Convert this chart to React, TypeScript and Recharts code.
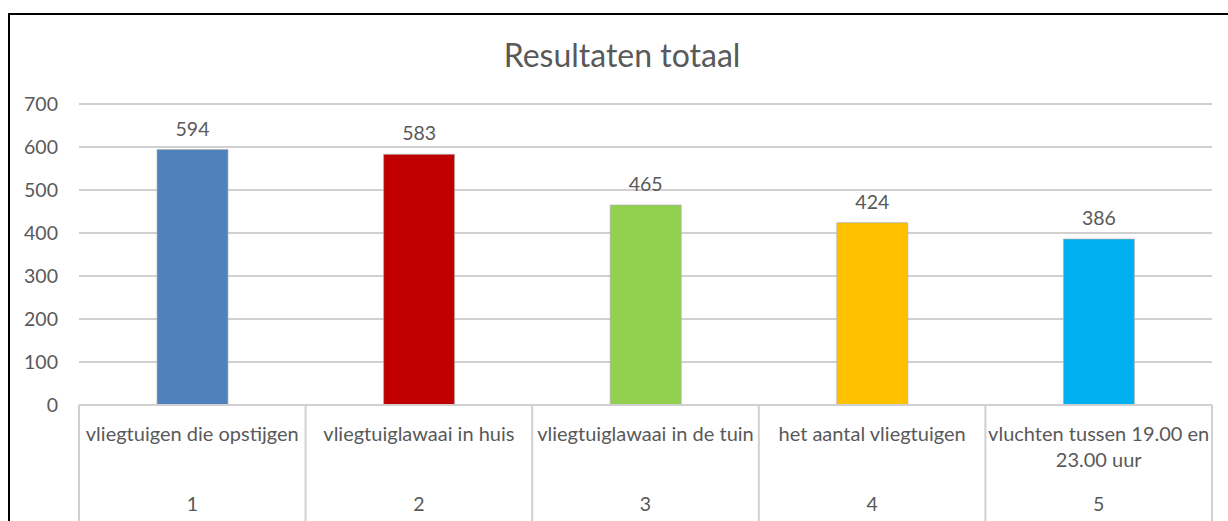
import React from 'react';
import { BarChart, Bar, XAxis, YAxis, CartesianGrid, Cell, LabelList } from 'recharts';

const categories = [
  'vliegtuigen die opstijgen',
  'vliegtuiglawaai in huis',
  'vliegtuiglawaai in de tuin',
  'het aantal vliegtuigen',
  'vluchten tussen 19.00 en\n23.00 uur',
];
const groupLabels = ['1', '2', '3', '4', '5'];
const totals = [594, 583, 465, 424, 386];
const barColors = ['#4F81BD', '#C00000', '#92D050', '#FFC000', '#00B0F0'];
const yTicks = [0, 100, 200, 300, 400, 500, 600, 700];

const FONT = 'Lato, "Open Sans", sans-serif';
const TEXT = '#595959';
const GRID = '#d0d0d0';

const data = categories.map((name, i) => ({
  name,
  group: groupLabels[i],
  value: totals[i],
}));

// two-level category axis: label rows + number row, with cell dividers
const CategoryTick = (props: any) => {
  const { x, y, payload, index, width, visibleTicksCount } = props;
  const count = visibleTicksCount || categories.length;
  const band = width ? width / count : 226.6;
  const lines = String(payload.value).split('\n');
  const left = x - band / 2;
  const right = x + band / 2;
  return (
    <g>
      <line x1={left} x2={left} y1={y} y2={y + 120} stroke={GRID} strokeWidth={2} />
      {index === count - 1 && (
        <line x1={right} x2={right} y1={y} y2={y + 120} stroke={GRID} strokeWidth={2} />
      )}
      <text x={x} y={y + 36} textAnchor="middle" fill={TEXT} fontSize={20} fontFamily={FONT}>
        {lines.map((l, i) => (
          <tspan key={i} x={x} dy={i === 0 ? 0 : 26}>
            {l}
          </tspan>
        ))}
      </text>
      <text x={x} y={y + 106} textAnchor="middle" fill={TEXT} fontSize={19.5} fontFamily={FONT}>
        {groupLabels[index]}
      </text>
    </g>
  );
};

export default function App() {
  return (
    <div style={{ position: 'absolute', left: 0, top: 0, width: 1228, height: 521, background: '#fff', overflow: 'hidden' }}>
      <div
        style={{
          position: 'absolute',
          left: 8,
          top: 13,
          width: 1240,
          height: 520,
          borderLeft: '2px solid #000',
          borderTop: '2px solid #000',
        }}
      />
      <div
        style={{
          position: 'absolute',
          left: 0,
          width: 1244,
          top: 36,
          textAlign: 'center',
          fontFamily: FONT,
          fontSize: 32,
          color: TEXT,
          lineHeight: '38px',
        }}
      >
        Resultaten totaal
      </div>
      <div style={{ position: 'absolute', left: 0, top: 0 }}>
        <BarChart width={1228} height={521} data={data} margin={{ top: 104, right: 16, left: 0, bottom: 0 }}>
          <CartesianGrid vertical={false} stroke={GRID} strokeWidth={2} />
          <XAxis
            dataKey="name"
            height={116}
            interval={0}
            tickLine={false}
            tickSize={0}
            tickMargin={0}
            axisLine={{ stroke: GRID, strokeWidth: 2 }}
            tick={<CategoryTick />}
          />
          <YAxis
            width={79}
            domain={[0, 700]}
            ticks={yTicks}
            axisLine={false}
            tickLine={false}
            tickSize={0}
            tickMargin={21}
            tick={{ fill: TEXT, fontSize: 19.5, fontFamily: FONT }}
          />
          <Bar dataKey="value" barSize={71} stroke="#b0b0b0" strokeWidth={0.75} isAnimationActive={false}>
            {data.map((d, i) => (
              <Cell key={d.name} fill={barColors[i]} />
            ))}
            <LabelList dataKey="value" position="top" offset={14} fill={TEXT} fontSize={19.5} fontFamily={FONT} />
          </Bar>
        </BarChart>
      </div>
    </div>
  );
}
